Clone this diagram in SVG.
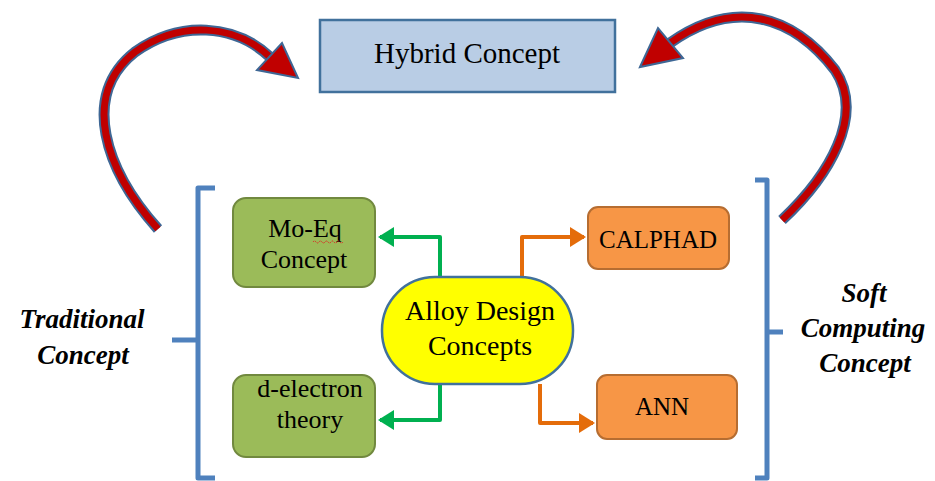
<svg xmlns="http://www.w3.org/2000/svg" width="935" height="481" viewBox="0 0 935 481">
<defs>
<style>
text{fill:#000;text-anchor:middle}
.bi{font-weight:bold;font-style:italic}
.green{fill:#9bbb59;stroke:#71893f;stroke-width:2}
.orange{fill:#f79646;stroke:#b66d31;stroke-width:2}
.gc{fill:none;stroke:#00b050;stroke-width:4;stroke-linejoin:round}
.oc{fill:none;stroke:#e46c0a;stroke-width:4;stroke-linejoin:round}
.br{fill:none;stroke:#4f81bd;stroke-width:5;stroke-linejoin:round}
.shO{fill:none;stroke:#3e6795;stroke-width:11;stroke-linecap:butt}
.shI{fill:none;stroke:#c00000;stroke-width:7;stroke-linecap:butt}
.hd{fill:#c00000;stroke:#3e6795;stroke-width:2;stroke-linejoin:miter}
</style>
<marker id="ag" markerWidth="4" markerHeight="5" refX="3.5" refY="2.5" orient="auto" markerUnits="strokeWidth"><path d="M0,0 L4,2.5 L0,5 Z" fill="#00b050"/></marker>
<marker id="ao" markerWidth="4" markerHeight="5" refX="3.5" refY="2.5" orient="auto" markerUnits="strokeWidth"><path d="M0,0 L4,2.5 L0,5 Z" fill="#e46c0a"/></marker>
</defs>
<rect width="935" height="481" fill="#fff"/>

<g id="arrows-curved">
<path class="shO" d="M158,229 C105,170 80,95 135,52 C180,20 235,24 270,57"/>
<path class="shI" d="M158,229 C105,170 80,95 135,52 C180,20 235,24 270,57"/>
<polygon class="hd" points="298,78 282,43 257,70"/>
<path class="shO" d="M782,220 C830,175 865,115 835,70 C793,16 735,-3 670,43"/>
<path class="shI" d="M782,220 C830,175 865,115 835,70 C793,16 735,-3 670,43"/>
<polygon class="hd" points="640,67 658,28 683,58"/>
</g>

<g id="connectors">
<path class="gc" d="M440,277 V237 H380" marker-end="url(#ag)"/>
<path class="gc" d="M440,384 V420 H380" marker-end="url(#ag)"/>
<path class="oc" d="M522,277 V237 H584" marker-end="url(#ao)"/>
<path class="oc" d="M540,384 V423 H593" marker-end="url(#ao)"/>
</g>

<g id="hybrid">
<rect x="320" y="20" width="295" height="72" fill="#b9cde5" stroke="#41719c" stroke-width="2.5"/>
<text font-family="'Liberation Serif', serif" x="467" y="63" font-size="29">Hybrid Concept</text>
</g>

<g id="bracket-left">
<path class="br" d="M215,188 H198 V478 H215 M198,340 H172"/>
</g>
<g id="bracket-right">
<path class="br" d="M755,180 H767 V478 H755 M767,332 H783"/>
</g>

<g id="traditional">
<text class="bi" font-family="'Liberation Serif', serif" x="82" y="328" font-size="27">Traditional</text>
<text class="bi" font-family="'Liberation Serif', serif" x="83" y="364" font-size="27">Concept</text>
</g>
<g id="soft">
<text class="bi" font-family="'Liberation Serif', serif" x="864" y="302" font-size="27">Soft</text>
<text class="bi" font-family="'Liberation Serif', serif" x="863" y="337" font-size="27">Computing</text>
<text class="bi" font-family="'Liberation Serif', serif" x="865" y="372" font-size="27">Concept</text>
</g>

<g id="moeq">
<rect class="green" x="233" y="198" width="142" height="89" rx="13"/>
<text font-family="'Liberation Serif', serif" x="305" y="237" font-size="26">Mo-Eq</text>
<path d="M313,242 q1.5,-2 3,0 t3,0 t3,0 t3,0 t3,0 t3,0 t3,0 t3,0 t3,0 t3,0" fill="none" stroke="#e02020" stroke-width="1" stroke-dasharray="1.5,1"/>
<text font-family="'Liberation Serif', serif" x="304" y="268" font-size="26">Concept</text>
</g>
<g id="delectron">
<rect class="green" x="233" y="375" width="142" height="82" rx="13"/>
<text font-family="'Liberation Serif', serif" x="310" y="397" font-size="26">d-electron</text>
<text font-family="'Liberation Serif', serif" x="310" y="428" font-size="26">theory</text>
</g>
<g id="alloy">
<rect x="382" y="277" width="191" height="107" rx="53" fill="#ffff00" stroke="#41719c" stroke-width="2.5"/>
<text font-family="'Liberation Serif', serif" x="480" y="320" font-size="28">Alloy Design</text>
<text font-family="'Liberation Serif', serif" x="480" y="355" font-size="28">Concepts</text>
</g>
<g id="calphad">
<rect class="orange" x="588" y="207" width="141" height="62" rx="10"/>
<text font-family="'Liberation Serif', serif" x="658" y="248" font-size="25">CALPHAD</text>
</g>
<g id="ann">
<rect class="orange" x="597" y="375" width="140" height="64" rx="10"/>
<text font-family="'Liberation Serif', serif" x="662" y="415" font-size="25">ANN</text>
</g>
</svg>
